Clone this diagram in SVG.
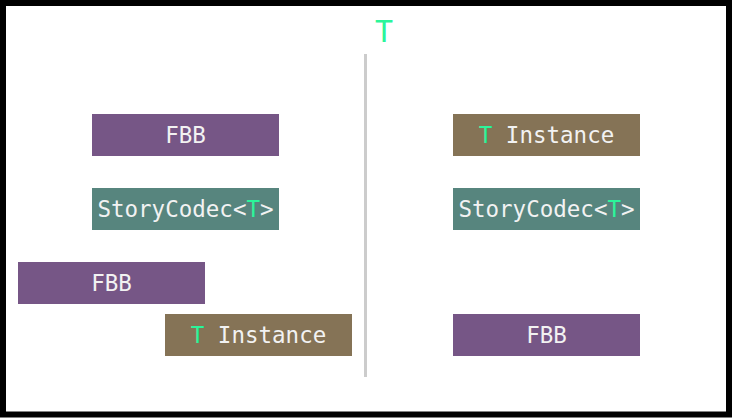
<svg xmlns="http://www.w3.org/2000/svg" width="732" height="418" viewBox="0 0 732 418">
<style>
.t{font-family:"DejaVu Sans Mono","Liberation Mono",monospace;font-size:22.5px;fill:#f2f2f2;text-anchor:middle}
.g{fill:#2bf59a}
.fbb{fill:#765686}
.sc{fill:#57857e}
.ti{fill:#857356}
.c{stroke:#ffffff;stroke-width:2;fill:none}
</style>
<rect x="0" y="0" width="732" height="418" fill="#ffffff"/>
<rect x="3" y="3" width="726" height="411.5" fill="none" stroke="#000" stroke-width="6"/>
<text x="384" y="42" class="t g" style="font-size:30px">T</text>
<line x1="365.5" y1="54" x2="365.5" y2="377" stroke="#cccccc" stroke-width="3"/>
<g id="connectors">
<line class="c" x1="185.5" y1="154" x2="185.5" y2="188"/>
<line class="c" x1="111" y1="229" x2="111" y2="262"/>
<line class="c" x1="258" y1="229" x2="258" y2="314"/>
<line class="c" x1="546.5" y1="155" x2="546.5" y2="188"/>
<line class="c" x1="546.5" y1="229" x2="546.5" y2="314"/>
</g>
<g id="fbb-left-top"><rect class="fbb" x="92" y="114" width="187" height="42"/><text class="t" x="185.5" y="143">FBB</text></g>
<g id="codec-left"><rect class="sc" x="92" y="188" width="187" height="42"/><text class="t" x="185.5" y="217">StoryCodec&lt;<tspan class="g">T</tspan>&gt;</text></g>
<g id="fbb-left-bottom"><rect class="fbb" x="18" y="262" width="187" height="42"/><text class="t" x="111.5" y="291">FBB</text></g>
<g id="instance-left"><rect class="ti" x="165" y="314" width="187" height="42"/><text class="t" x="258.5" y="343"><tspan class="g">T</tspan> Instance</text></g>
<g id="instance-right"><rect class="ti" x="453" y="114" width="187" height="42"/><text class="t" x="546.5" y="143"><tspan class="g">T</tspan> Instance</text></g>
<g id="codec-right"><rect class="sc" x="453" y="188" width="187" height="42"/><text class="t" x="546.5" y="217">StoryCodec&lt;<tspan class="g">T</tspan>&gt;</text></g>
<g id="fbb-right-bottom"><rect class="fbb" x="453" y="314" width="187" height="42"/><text class="t" x="546.5" y="343">FBB</text></g>
</svg>
